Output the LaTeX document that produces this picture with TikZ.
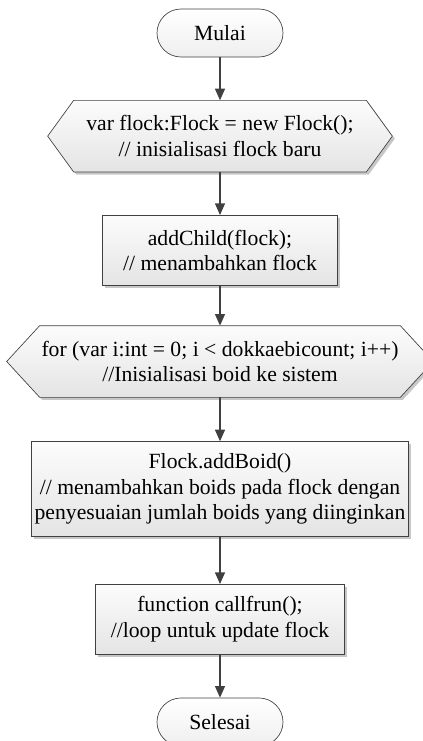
\documentclass[tikz,border=0pt]{standalone}
\usepackage{fontspec}
\setmainfont{Liberation Serif}
\usetikzlibrary{arrows.meta,positioning,calc,shadows,backgrounds}
\definecolor{edge}{RGB}{64,64,64}
\definecolor{topfill}{RGB}{252,252,252}
\definecolor{botfill}{RGB}{228,228,228}
\tikzset{
  base/.style={font=\fontsize{13}{15.3}\selectfont,align=center,inner sep=2pt},
  term/.style={base,draw=edge,rounded corners=14.4pt,minimum width=75.6pt,minimum height=28.8pt,top color=white,bottom color=botfill!60},
  proc/.style={base,draw=edge,top color=topfill,bottom color=botfill,minimum height=42pt,
    drop shadow={shadow xshift=1.5pt,shadow yshift=-1.5pt,fill=black!22,opacity=1}},
  prep/.style={base,minimum height=42.6pt},
  hexa/.style={draw=edge,top color=topfill,bottom color=botfill,
    drop shadow={shadow xshift=1.5pt,shadow yshift=-1.5pt,fill=black!22,opacity=1}},
  arr/.style={-{Triangle[length=7pt,width=6pt]},draw=edge,line width=0.8pt},
}

\begin{document}
\begin{tikzpicture}
  \useasboundingbox (0,0) rectangle (253.8pt,-444.6pt);
  \node[term] (start) at (132pt,-19.8pt) {Mulai};
  \node[prep,minimum width=206.4pt,below=25.8pt of start] (init)
    {var flock:Flock = new Flock();\\// inisialisasi flock baru};
  \node[proc,minimum width=141pt,below=25.8pt of init] (child)
    {addChild(flock);\\// menambahkan flock};
  \node[prep,minimum width=255.6pt,below=24pt of child] (loop)
    {for (var i:int = 0; i < dokkaebicount; i++)\\//Inisialisasi boid ke sistem};
  \node[proc,minimum width=226.2pt,minimum height=57pt,below=26.4pt of loop] (boid)
    {Flock.addBoid()\\// menambahkan boids pada flock dengan\\penyesuaian jumlah boids yang diinginkan};
  \node[proc,minimum width=149.4pt,below=28.2pt of boid] (run)
    {function callfrun();\\//loop untuk update flock};
  \node[term,below=25.8pt of run] (stop) {Selesai};
  % hexagon frames behind the text
  \begin{scope}[on background layer]
    \foreach \n/\s in {init/15.6pt,loop/19.8pt}
      \draw[hexa] (\n.west) -- ($(\n.north west)+(\s,0)$) -- ($(\n.north east)+(-\s,0)$)
        -- (\n.east) -- ($(\n.south east)+(-\s,0)$) -- ($(\n.south west)+(\s,0)$) -- cycle;
  \end{scope}
  % flow
  \foreach \a/\b in {start/init,init/child,child/loop,loop/boid,boid/run,run/stop}
    \draw[arr] (\a) -- (\b);
\end{tikzpicture}
\end{document}
